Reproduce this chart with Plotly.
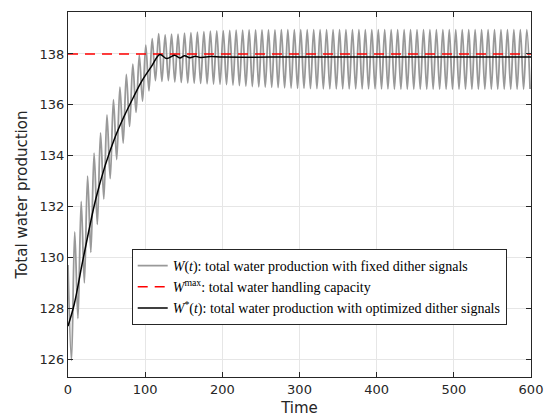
import plotly.graph_objects as go

# ---- data ----
start_t = [0.0]
start_v = [129.7]

peak_t = [8.7, 17.1, 25.4, 33.8, 42.2, 50.5, 58.9, 67.3, 75.6, 84.0,
          92.4, 100.8, 109.1, 117.5, 125.9, 134.2, 142.6, 151.0, 159.3, 167.7,
          176.1, 184.5, 192.8, 201.2, 209.6, 217.9, 226.3, 234.7, 243.1, 251.4,
          259.8, 268.2, 276.5, 284.9, 293.3, 301.6, 310.0, 318.4, 326.7, 335.1,
          343.5, 351.9, 360.2, 368.6, 377.0, 385.3, 393.7, 402.1, 410.4, 418.8,
          427.2, 435.6, 443.9, 452.3, 460.7, 469.0, 477.4, 485.8, 494.1, 502.5,
          510.9, 519.3, 527.6, 536.0, 544.4, 552.7, 561.1, 569.5, 577.8, 586.2,
          594.6]
peak_v = [131.0, 132.2, 133.2, 134.1, 134.9, 135.6, 136.2, 136.7, 137.2, 137.6,
          137.95, 138.35, 138.6, 138.8, 138.75, 138.78, 138.78, 138.82, 138.84, 138.86,
          138.88, 138.9, 138.91, 138.92, 138.93, 138.94, 138.94, 138.95, 138.95, 138.95,
          138.95, 138.95, 138.96, 138.96, 138.96, 138.96, 138.96, 138.96, 138.96, 138.96,
          138.96, 138.96, 138.96, 138.96, 138.96, 138.96, 138.96, 138.96, 138.96, 138.96,
          138.96, 138.96, 138.96, 138.96, 138.96, 138.96, 138.96, 138.96, 138.96, 138.96,
          138.96, 138.96, 138.96, 138.96, 138.96, 138.96, 138.96, 138.96, 138.96, 138.96,
          138.96]

trough_t = [4.5, 12.9, 21.2, 29.6, 38.0, 46.4, 54.7, 63.1, 71.5, 79.8,
            88.2, 96.6, 104.9, 113.3, 121.7, 130.1, 138.4, 146.8, 155.2, 163.5,
            171.9, 180.3, 188.6, 197.0, 205.4, 213.8, 222.1, 230.5, 238.9, 247.2,
            255.6, 264.0, 272.3, 280.7, 289.1, 297.5, 305.8, 314.2, 322.6, 330.9,
            339.3, 347.7, 356.0, 364.4, 372.8, 381.2, 389.5, 397.9, 406.3, 414.6,
            423.0, 431.4, 439.7, 448.1, 456.5, 464.9, 473.2, 481.6, 490.0, 498.3,
            506.7, 515.1, 523.4, 531.8, 540.2, 548.6, 556.9, 565.3, 573.7, 582.0,
            590.4, 598.8]
trough_v = [125.95, 127.6, 129.0, 130.2, 131.3, 132.3, 133.1, 133.85, 134.5, 135.15,
            135.7, 136.15, 136.55, 136.95, 136.92, 136.95, 136.9, 136.88, 136.86, 136.85,
            136.84, 136.83, 136.82, 136.81, 136.8, 136.78, 136.76, 136.74, 136.72, 136.71,
            136.70, 136.69, 136.68, 136.67, 136.66, 136.65, 136.65, 136.64, 136.64, 136.63,
            136.63, 136.63, 136.63, 136.63, 136.63, 136.63, 136.63, 136.63, 136.63, 136.63,
            136.62, 136.62, 136.62, 136.62, 136.62, 136.62, 136.62, 136.62, 136.62, 136.62,
            136.62, 136.62, 136.62, 136.62, 136.62, 136.62, 136.62, 136.62, 136.62, 136.62,
            136.62, 136.62]

star_t = [0, 8, 18, 27, 36, 48, 60, 72, 84, 96, 108, 119, 128, 138, 145, 151,
          158, 165, 172, 185, 200, 300, 400, 500, 600]
star_v = [127.3, 128.15, 129.7, 131.05, 132.3, 133.6, 134.65, 135.5, 136.25, 136.95,
          137.5, 137.98, 137.82, 137.95, 137.84, 137.93, 137.85, 137.91, 137.86, 137.9,
          137.88, 137.88, 137.88, 137.88, 137.88]

wmax_t = [0, 600]
wmax_v = [138, 138]

x_ticks = [0, 100, 200, 300, 400, 500, 600]
y_ticks = [126, 128, 130, 132, 134, 136, 138]

# merge extrema into one time-ordered series
pts = sorted(list(zip(start_t, start_v)) + list(zip(peak_t, peak_v)) + list(zip(trough_t, trough_v)))
w_t = [p[0] for p in pts]
w_v = [p[1] for p in pts]

fig = go.Figure()
fig.add_trace(go.Scatter(
    x=w_t, y=w_v, mode="lines", line=dict(color="#999999", width=1.8, shape="spline"),
    name="<i>W</i>(<i>t</i>): total water production with fixed dither signals"))
fig.add_trace(go.Scatter(
    x=wmax_t, y=wmax_v, mode="lines", line=dict(color="#ff0000", width=1.5, dash="10px,7px"),
    name="<i>W</i><sup>max</sup>: total water handling capacity"))
fig.add_trace(go.Scatter(
    x=star_t, y=star_v, mode="lines", line=dict(color="#000000", width=1.5, shape="spline"),
    name="<i>W</i><sup>*</sup>(<i>t</i>): total water production with optimized dither signals"))

axis_common = dict(
    showline=True, linecolor="#262626", linewidth=1, mirror="ticks",
    ticks="inside", ticklen=5, tickcolor="#262626", tickwidth=1,
    showgrid=True, gridcolor="#e6e6e6", gridwidth=1, zeroline=False,
    tickfont=dict(family="DejaVu Sans", size=13, color="#262626"),
    automargin=False,
)

fig.update_layout(
    width=545, height=418,
    margin=dict(l=68, r=14, t=12, b=41),
    paper_bgcolor="white", plot_bgcolor="white",
    showlegend=True,
    legend=dict(
        x=0.1376, y=0.2466, xanchor="left", yanchor="middle",
        bgcolor="white", bordercolor="#262626", borderwidth=1,
        font=dict(family="Liberation Serif", size=14, color="#000000"),
        tracegroupgap=0,
    ),
)
fig.update_xaxes(range=[0, 600], tickvals=x_ticks, ticktext=[str(v) for v in x_ticks],
                 title=dict(text="Time", font=dict(family="DejaVu Sans", size=15, color="#262626"), standoff=6),
                 **axis_common)
fig.update_yaxes(range=[125.3, 139.65], tickvals=y_ticks, ticktext=[str(v) for v in y_ticks],
                 title=dict(text="Total water production", font=dict(family="DejaVu Sans", size=15, color="#262626"), standoff=8),
                 **axis_common)

fig.write_html("out.html", config={"displayModeBar": False},
               post_script="document.body.style.margin='0';document.body.style.overflow='hidden';")
